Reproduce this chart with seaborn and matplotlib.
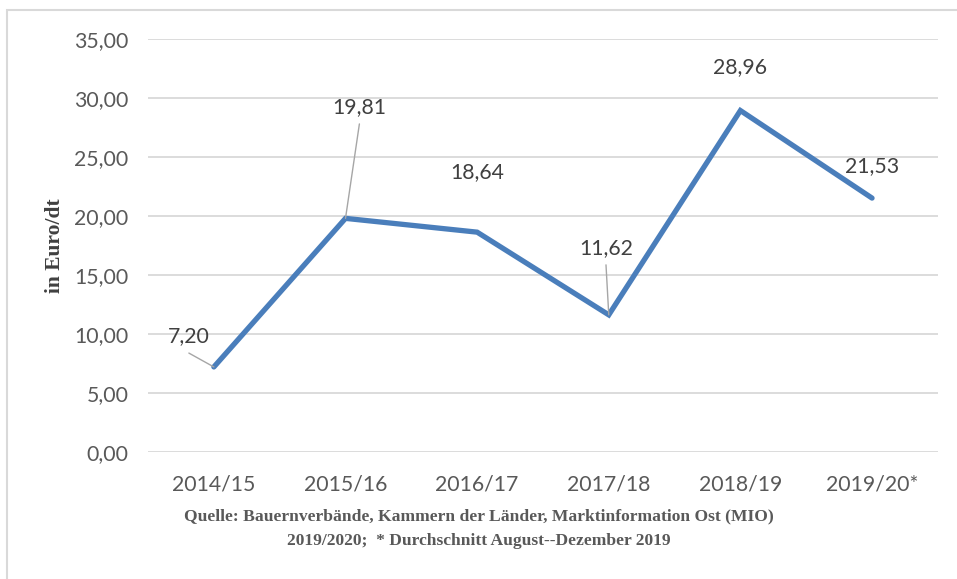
import matplotlib
matplotlib.use("Agg")
import matplotlib.pyplot as plt
import seaborn as sns
import pandas as pd
from matplotlib.patches import Rectangle

# chart values
seasons = ['2014/15', '2015/16', '2016/17', '2017/18', '2018/19', '2019/20*']
prices = [7.20, 19.81, 18.64, 11.62, 28.96, 21.53]
value_labels = ['7,20', '19,81', '18,64', '11,62', '28,96', '21,53']
y_ticks = [0, 5, 10, 15, 20, 25, 30, 35]

# label offsets in points (dx, dy) and whether a leader line is drawn
label_offsets = [(-18, 22), (10, 80), (0, 43), (-2, 48), (0, 31), (0, 23)]
leaders = [True, True, False, True, False, False]

df = pd.DataFrame({'season': seasons, 'price': prices})
df['pos'] = range(len(df))

sns.set_theme(style='white')
plt.rcParams['font.family'] = ['Lato', 'DejaVu Sans']

fig = plt.figure(figsize=(9.57, 5.79), dpi=100)
ax = fig.add_axes([0.1547, 0.2197, 0.8253, 0.7123])

# outer frame (only top and left edges visible)
fig.patches.append(Rectangle((7 / 957, -0.1), 1.2, 1 - 10 / 579 + 0.1,
                             transform=fig.transFigure, fill=False,
                             edgecolor='#d9d9d9', linewidth=1.5))

sns.lineplot(data=df, x='pos', y='price', ax=ax, color='#4a7ebb',
             linewidth=3.8, solid_joinstyle='miter', solid_capstyle='round')

ax.set_xlim(-0.5, len(seasons) - 0.5)
ax.set_ylim(0, 35)
ax.set_yticks(y_ticks)
ax.set_yticklabels([f'{v:.2f}'.replace('.', ',') for v in y_ticks],
                   fontsize=15.3, color='#595959')
ax.set_xticks(df['pos'])
ax.set_xticklabels(seasons, fontsize=15.3, color='#595959')
ax.tick_params(axis='x', length=0, pad=16)
ax.tick_params(axis='y', length=0, pad=14)
ax.yaxis.grid(True, color='#d9d9d9', linewidth=1.3)
for s in ax.spines.values():
    s.set_visible(False)
ax.set_xlabel('')
ax.set_ylabel('in Euro/dt', fontsize=15.5, fontweight='bold',
              family='Liberation Serif', color='#404040', labelpad=7)

for i, (x, y) in enumerate(zip(df['pos'], prices)):
    dx, dy = label_offsets[i]
    ax.annotate(value_labels[i], (x, y), xytext=(dx, dy),
                textcoords='offset points', ha='center', va='center',
                fontsize=15.3, color='#404040')
    if leaders[i]:
        ax.annotate('', (x, y), xytext=(dx, dy - 12), textcoords='offset points',
                    arrowprops=dict(arrowstyle='-', color='#a6a6a6', lw=1,
                                    shrinkA=0, shrinkB=0))

fig.text(0.5, 1 - 516 / 579,
         'Quelle: Bauernverbände, Kammern der Länder, Marktinformation Ost (MIO)',
         ha='center', va='center', fontsize=12.6, fontweight='bold',
         family='Liberation Serif', color='#595959')
fig.text(0.5, 1 - 541 / 579,
         '2019/2020;  * Durchschnitt August--Dezember 2019',
         ha='center', va='center', fontsize=12.6, fontweight='bold',
         family='Liberation Serif', color='#595959')

fig.savefig('out.png', dpi=100)
